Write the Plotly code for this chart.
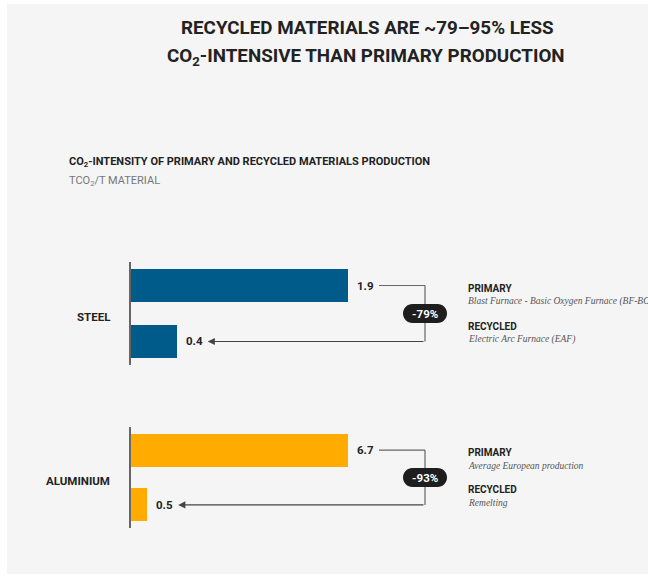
import plotly.graph_objects as go

# ---------------- data ----------------
materials = ["STEEL", "ALUMINIUM"]
routes = ["PRIMARY", "RECYCLED"]
steel_values = [1.9, 0.4]
aluminium_values = [6.7, 0.5]
reductions = ["-79%", "-93%"]
steel_processes = ["Blast Furnace - Basic Oxygen Furnace (BF-BOF)", "Electric Arc Furnace (EAF)"]
aluminium_processes = ["Average European production", "Remelting"]
title_lines = ["RECYCLED MATERIALS ARE ~79–95% LESS",
               "CO<sub>2</sub>-INTENSIVE THAN PRIMARY PRODUCTION"]
subtitle = "CO<sub>2</sub>-INTENSITY OF PRIMARY AND RECYCLED MATERIALS PRODUCTION"
unit_label = "TCO<sub>2</sub>/T MATERIAL"

# ---------------- style ----------------
W, H = 648, 576
COND = "Roboto, Liberation Sans, sans-serif"
SERIF = "Liberation Serif, DejaVu Serif, serif"
DARK = "#222222"
LINE = "#666666"
colors = ["#005b8a", "#ffab00"]

def px(x):
    return x / W

def py(y):
    return 1 - y / H

X0 = 131          # axis line x (px)
BAR_PX = 217      # pixel length of the longest bar
DOM_PX = W - X0
BRACKET_PX = 425

panels = [
    dict(values=steel_values, processes=steel_processes, ytop=262, ybot=365),
    dict(values=aluminium_values, processes=aluminium_processes, ytop=427, ybot=528),
]

fig = go.Figure()
shapes = []
annotations = []

# background panel
shapes.append(dict(type="rect", xref="paper", yref="paper", x0=px(7), x1=1,
                   y0=py(574), y1=py(4), fillcolor="#f5f5f5", line=dict(width=0), layer="below"))

def pill_path(hw, hh):
    r = hh
    k = 0.5523 * r
    a = hw - r
    return (f"M {-a},{-hh} L {a},{-hh} "
            f"C {a + k},{-hh} {hw},{-k} {hw},0 "
            f"C {hw},{k} {a + k},{hh} {a},{hh} "
            f"L {-a},{hh} "
            f"C {-a - k},{hh} {-hw},{k} {-hw},0 "
            f"C {-hw},{-k} {-a - k},{-hh} {-a},{-hh} Z")

layout_axes = {}
for i, p in enumerate(panels):
    n = "" if i == 0 else str(i + 1)
    xa, ya = "x" + n, "y" + n
    vals = p["values"]
    rmax = max(vals) * DOM_PX / BAR_PX
    s = rmax / DOM_PX  # data units per pixel

    fig.add_trace(go.Bar(x=vals, y=routes, orientation="h", width=0.6,
                         marker=dict(color=colors[i], line=dict(width=0)),
                         xaxis=xa, yaxis=ya, showlegend=False, hoverinfo="skip"))

    layout_axes["xaxis" + n] = dict(domain=[px(X0), 1], range=[0, rmax], visible=False,
                                    anchor=ya, fixedrange=True)
    layout_axes["yaxis" + n] = dict(domain=[py(p["ybot"]), py(p["ytop"])], range=[1.42, -0.42],
                                    showline=True, linecolor=LINE, linewidth=1.5,
                                    showticklabels=False, showgrid=False, zeroline=False,
                                    anchor=xa, fixedrange=True, type="category")

    # value labels
    for j, v in enumerate(vals):
        annotations.append(dict(xref=xa, yref=ya, x=v, y=j, text=f"{v:.1f}", showarrow=False,
                                xanchor="left", xshift=7,
                                font=dict(family=COND, size=11.5, color=DARK, weight=700)))

    bx = (BRACKET_PX - X0) * s
    # primary connector
    shapes.append(dict(type="line", xref=xa, yref=ya, x0=vals[0] + 31 * s, x1=bx, y0=0, y1=0,
                       line=dict(color=LINE, width=1.2)))
    # vertical
    shapes.append(dict(type="line", xref=xa, yref=ya, x0=bx, x1=bx, y0=0, y1=1,
                       line=dict(color=LINE, width=1.2)))
    # arrow to recycled
    annotations.append(dict(xref=xa, yref=ya, x=vals[1] + 31 * s, y=1, ax=bx, ay=1,
                            axref=xa, ayref=ya, text=" ", showarrow=True, arrowhead=2,
                            arrowsize=1.2, arrowwidth=1.2, arrowcolor="#444444", standoff=0,
                            font=dict(size=1)))
    # pill
    shapes.append(dict(type="path", xref=xa, yref=ya, xsizemode="pixel", ysizemode="pixel",
                       xanchor=bx, yanchor=0.5, path=pill_path(22, 9.5), fillcolor="#1e1e1e",
                       line=dict(width=0)))
    annotations.append(dict(xref=xa, yref=ya, x=bx, y=0.5, text=reductions[i], showarrow=False,
                            font=dict(family=COND, size=11.5, color="white", weight=700)))

    # category label
    annotations.append(dict(xref="paper", yref=ya, x=px(112), y=0.5, text=materials[i],
                            showarrow=False, xanchor="right", yshift=-3,
                            font=dict(family=COND, size=11.5, color=DARK, weight=700)))
    # right-hand legend texts
    shifts = [(-2.5, -15.5), (15, 2)]
    for j in range(2):
        annotations.append(dict(xref="paper", yref=ya, x=px(466), y=j, yshift=shifts[j][0],
                                text=routes[j], showarrow=False, xanchor="left",
                                font=dict(family=COND, size=10, color=DARK, weight=700)))
        annotations.append(dict(xref="paper", yref=ya, x=px(466), y=j, yshift=shifts[j][1],
                                text=p["processes"][j], showarrow=False, xanchor="left",
                                font=dict(family=SERIF, size=9.5, color="#555555", style="italic")))

# titles
annotations.append(dict(xref="paper", yref="paper", x=px(367), y=py(27.5), text=title_lines[0],
                        showarrow=False, xanchor="center", yanchor="middle",
                        font=dict(family=COND, size=18.8, color=DARK, weight=700)))
annotations.append(dict(xref="paper", yref="paper", x=px(366), y=py(57), text=title_lines[1],
                        showarrow=False, xanchor="center", yanchor="middle",
                        font=dict(family=COND, size=18.8, color=DARK, weight=700)))
annotations.append(dict(xref="paper", yref="paper", x=px(67), y=py(162), text=subtitle,
                        showarrow=False, xanchor="left", yanchor="middle",
                        font=dict(family=COND, size=11, color=DARK, weight=700)))
annotations.append(dict(xref="paper", yref="paper", x=px(67), y=py(181), text=unit_label,
                        showarrow=False, xanchor="left", yanchor="middle",
                        font=dict(family=COND, size=11, color="#777777")))

fig.update_layout(width=W, height=H, margin=dict(l=0, r=0, t=0, b=0),
                  paper_bgcolor="white", plot_bgcolor="rgba(0,0,0,0)",
                  shapes=shapes, annotations=annotations, showlegend=False,
                  bargap=0, **layout_axes)

fig.write_html("out.html")
